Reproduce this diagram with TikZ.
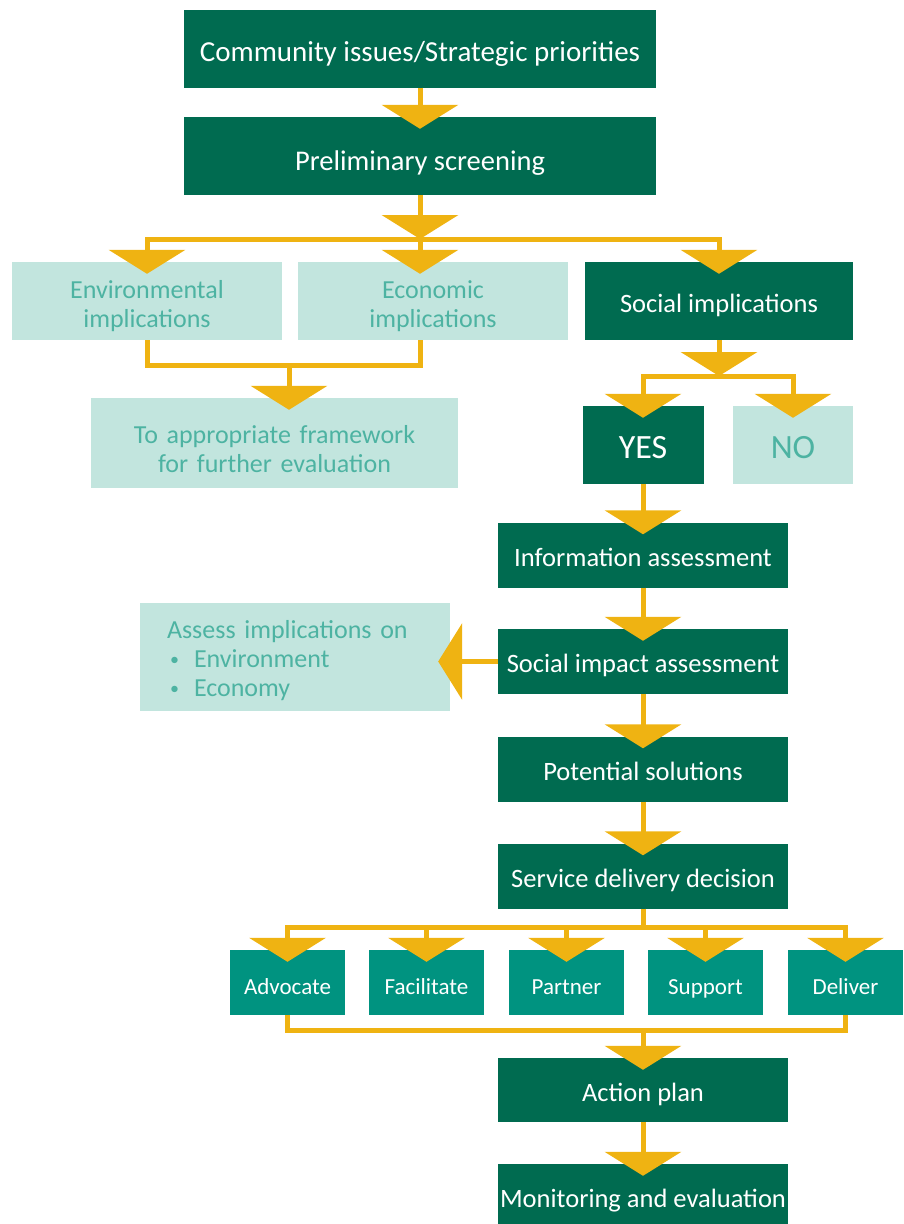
\documentclass[tikz,border=0pt]{standalone}
\usepackage{fontspec}
\setmainfont{Carlito}
\usetikzlibrary{arrows.meta, calc}

\definecolor{sgdark}{HTML}{006B50}
\definecolor{sgmid}{HTML}{009380}
\definecolor{sglight}{HTML}{C2E5DE}
\definecolor{sgtext}{HTML}{4DB3A2}
\definecolor{sggold}{HTML}{EFB312}

\newcommand{\sgbullet}{\makebox[27pt][l]{\hspace*{3pt}\raisebox{2pt}{\fontsize{18}{18}\selectfont\textbullet}}}

\tikzset{
  darkbox/.style={fill=sgdark, text=white, inner sep=0pt, align=center,
    font=\fontsize{26.5}{30}\selectfont, text height=22pt, text depth=0pt},
  lightbox/.style={fill=sglight, text=sgtext, inner sep=0pt, align=center,
    font=\fontsize{26}{29}\selectfont},
  optbox/.style={fill=sgmid, text=white, inner sep=0pt, minimum width=115pt,
    minimum height=65pt, font=\fontsize{23}{26}\selectfont, text height=23pt, text depth=0pt},
  flowline/.style={draw=sggold, line width=5pt},
  splitarrow/.style={flowline, -{Triangle[width=76pt, length=24pt]}},
  flowarrow/.style={splitarrow, shorten >=-12pt},
}

\begin{document}
\begin{tikzpicture}[x=1pt, y=-1pt]
    \useasboundingbox (0,0) rectangle (903,1224);

    \node[darkbox, minimum width=472pt, minimum height=78pt, font=\fontsize{29}{32}\selectfont, text height=25pt] (community) at (420,48.5) {Community issues/Strategic priorities};
    \node[darkbox, minimum width=472pt, minimum height=78pt, font=\fontsize{28.5}{32}\selectfont, text height=29pt] (prelim) at (420,156) {Preliminary screening};
    \node[lightbox, minimum width=270pt, minimum height=78pt, text width=270pt, text height=20pt, text depth=26pt] (env) at (147,301) {Environmental\\implications};
    \node[lightbox, minimum width=270pt, minimum height=78pt, text width=270pt, text height=20pt, text depth=26pt] (econ) at (433,301) {Economic\\implications};
    \node[darkbox, minimum width=268pt, minimum height=78pt, text height=23pt] (social) at (719,301) {Social implications};
    \node[lightbox, minimum width=367pt, minimum height=90pt, text width=367pt, text height=20pt, text depth=20pt] (frame) at (274.5,443) {To appropriate framework\\for further evaluation};
    \node[darkbox, minimum width=121pt, minimum height=78pt, font=\fontsize{34}{36}\selectfont, text height=26pt] (yes) at (643,445) {YES};
    \node[lightbox, minimum width=120pt, minimum height=78pt, font=\fontsize{34}{36}\selectfont, text height=26pt, text depth=0pt] (no) at (793,445) {NO};
    \node[darkbox, minimum width=290pt, minimum height=65pt] (info) at (643,555) {Information assessment};
    \node[lightbox, minimum width=310pt, minimum height=108pt, text width=256pt, align=left, text height=20pt, text depth=57pt] (assess) at (295,657)
        {Assess implications on\\\sgbullet Environment\\\sgbullet Economy};
    \node[darkbox, minimum width=290pt, minimum height=65pt] (sia) at (643,661.5) {Social impact assessment};
    \node[darkbox, minimum width=290pt, minimum height=65pt] (potential) at (643,769) {Potential solutions};
    \node[darkbox, minimum width=290pt, minimum height=65pt] (service) at (643,876) {Service delivery decision};
    \node[optbox] (advocate) at (287.5,982.5) {Advocate};
    \node[optbox] (facilitate) at (426.5,982.5) {Facilitate};
    \node[optbox] (partner) at (566.5,982.5) {Partner};
    \node[optbox] (support) at (705.5,982.5) {Support};
    \node[optbox] (deliver) at (845.5,982.5) {Deliver};
    \node[darkbox, minimum width=290pt, minimum height=64pt] (action) at (643,1090) {Action plan};
    \node[darkbox, minimum width=290pt, minimum height=65pt] (monitoring) at (643,1196.5) {Monitoring and evaluation};

    \coordinate (split1) at (420,239);
    \coordinate (merge1) at (289,365);
    \coordinate (split2) at (719,376);
    \coordinate (split3) at (643,927);
    \coordinate (merge2) at (643,1030);

    \draw[flowarrow] (community) -- (prelim);
    \draw[splitarrow] (prelim) -- (split1);
    \draw[flowarrow] (split1) -| (env.north);
    \draw[flowarrow] (split1) -- (split1 |- econ.north);
    \draw[flowarrow] (split1) -| (social.north);
    \draw[flowline] (env.south) |- (merge1) -| (split1 |- econ.south);
    \draw[flowarrow] (merge1) -- (merge1 |- frame.north);
    \draw[splitarrow] (social) -- (split2);
    \draw[flowarrow] (split2) -| (yes.north);
    \draw[flowarrow] (split2) -| (no.north);
    \draw[flowarrow] (yes) -- (info);
    \draw[flowarrow] (info) -- (sia);
    \draw[flowarrow] (sia.west) -- (sia.west -| assess.east);
    \draw[flowarrow] (sia) -- (potential);
    \draw[flowarrow] (potential) -- (service);
    \draw[flowline] (service) -- (split3);
    \foreach \opt in {advocate, facilitate, partner, support, deliver}
        \draw[flowarrow] (split3) -| (\opt.north);
    \draw[flowline] (advocate.south) |- (merge2) -| (deliver.south);
    \draw[flowarrow] (merge2) -- (action);
    \draw[flowarrow] (action) -- (monitoring);
\end{tikzpicture}
\end{document}
